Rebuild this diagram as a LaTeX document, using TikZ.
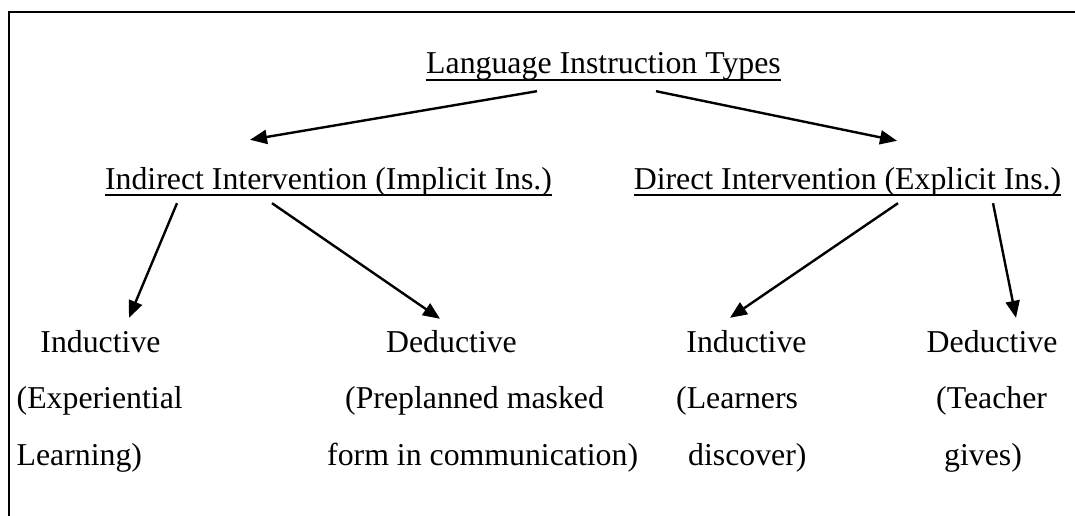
\documentclass[tikz,border=0pt]{standalone}
\usepackage{fontspec}
\setmainfont{Liberation Serif}
\usetikzlibrary{arrows.meta}
\newsavebox{\ulbox}
\newcommand{\ulined}[1]{\sbox{\ulbox}{#1}\rlap{\rule[-0.23em]{\wd\ulbox}{0.075em}}\usebox{\ulbox}}

\begin{document}
\begin{tikzpicture}[
        x=1pt, y=-1pt,
        every node/.style={font=\fontsize{31.8}{38}\selectfont, inner sep=0pt, text height=22pt, text depth=8pt},
        head/.style={anchor=base},
        desc/.style={anchor=base west},
        frame/.style={line width=2.2pt},
        line/.style={-{Triangle[length=17pt, width=14pt]}, line width=2.4pt}
    ]
        \useasboundingbox (0,0) rectangle (1075,516);
        \draw[frame] (8.6,530) -- (8.6,12) -- (1090,12);

        \node[head] (title)    at (603.5, 74) {\ulined{Language Instruction Types}};
        \node[head] (indirect) at (328.5,189) {\ulined{Indirect Intervention (Implicit Ins.)}};
        \node[head] (direct)   at (847.5,189) {\ulined{Direct Intervention (Explicit Ins.)}};

        \node[head] (indleft)  at (100.5,352) {Inductive};
        \node[head] (dedleft)  at (451.5,352) {Deductive};
        \node[head] (indright) at (746.5,352) {Inductive};
        \node[head] (dedright) at (992,  352) {Deductive};

        \node[desc] (expa) at (16.5,408) {(Experiential};
        \node[desc] (expb) at (16.5,465) {Learning)};
        \node[desc] (prea) at (345, 408) {(Preplanned masked};
        \node[desc] (preb) at (327, 465) {form in communication)};
        \node[desc] (lrna) at (676, 408) {(Learners};
        \node[desc] (lrnb) at (688, 465) {discover)};
        \node[desc] (tcha) at (936, 408) {(Teacher};
        \node[desc] (tchb) at (944, 465) {gives)};

        \draw[line] ([shift={(-66.5,9)}]title.south)  -- ([shift={(-78.5,-27)}]indirect.north);
        \draw[line] ([shift={(52.5,9)}]title.south)   -- ([shift={(49.5,-26)}]direct.north);
        \draw[line] ([shift={(-151.5,6)}]indirect.south) -- ([shift={(28.5,-12)}]indleft.north);
        \draw[line] ([shift={(-56.5,6)}]indirect.south)  -- ([shift={(-11.5,-11)}]dedleft.north);
        \draw[line] ([shift={(50.5,6)}]direct.south)     -- ([shift={(-16.5,-12)}]indright.north);
        \draw[line] ([shift={(145.5,6)}]direct.south)    -- ([shift={(24,-12)}]dedright.north);
    \end{tikzpicture}
\end{document}
